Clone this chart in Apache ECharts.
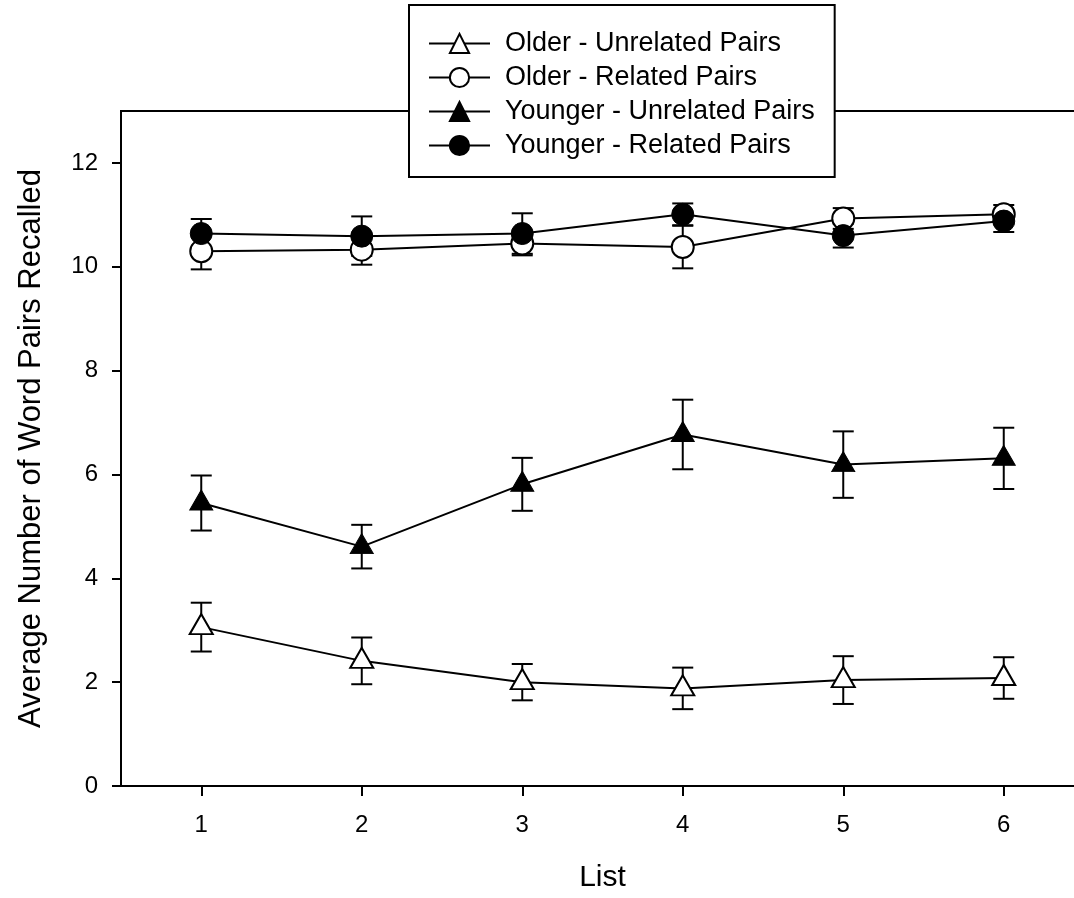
<!DOCTYPE html>
<html>
<head>
<meta charset="utf-8">
<script src="https://cdn.jsdelivr.net/npm/echarts@6/dist/echarts.min.js"></script>
<style>
  html, body { margin: 0; padding: 0; background: #fff; }
  #main { width: 1074px; height: 898px; }
</style>
</head>
<body>
<div id="main"></div>
<script>
// list numbers on the x axis
var lists = ['1', '2', '3', '4', '5', '6'];
var yTicks = [0, 2, 4, 6, 8, 10, 12];

// mean pairs recalled + error bar half-length
var olderUnrelated = [3.06, 2.41, 2.00, 1.88, 2.04, 2.08];
var olderUnrelatedErr = [0.47, 0.45, 0.35, 0.40, 0.46, 0.40];
var olderRelated = [10.30, 10.33, 10.45, 10.38, 10.93, 11.01];
var olderRelatedErr = [0.35, 0.29, 0.23, 0.41, 0.20, 0.18];
var youngerUnrelated = [5.45, 4.61, 5.81, 6.77, 6.19, 6.31];
var youngerUnrelatedErr = [0.53, 0.42, 0.51, 0.67, 0.64, 0.59];
var youngerRelated = [10.64, 10.59, 10.64, 11.01, 10.60, 10.88];
var youngerRelatedErr = [0.28, 0.38, 0.39, 0.21, 0.23, 0.21];

var FONT = '"Liberation Sans", Arial, sans-serif';

function errData(mean, err) {
    return mean.map(function (m, i) {
        return [i, m - err[i], m + err[i]];
    });
}

// vertical bar with caps
function renderErr(params, api) {
    var lo = api.coord([api.value(0), api.value(1)]);
    var hi = api.coord([api.value(0), api.value(2)]);
    var w = 10.5;
    var style = { stroke: '#000', lineWidth: 2 };
    return {
        type: 'group',
        children: [
            { type: 'line', shape: { x1: lo[0], y1: lo[1], x2: hi[0], y2: hi[1] }, style: style },
            { type: 'line', shape: { x1: lo[0] - w, y1: lo[1], x2: lo[0] + w, y2: lo[1] }, style: style },
            { type: 'line', shape: { x1: hi[0] - w, y1: hi[1], x2: hi[0] + w, y2: hi[1] }, style: style }
        ]
    };
}

function errSeries(mean, err) {
    return {
        type: 'custom',
        renderItem: renderErr,
        data: errData(mean, err),
        z: 1,
        silent: true,
        encode: { x: 0, y: [1, 2] }
    };
}

function lineSeries(name, data, symbol, hollow) {
    var isTri = symbol === 'triangle';
    return {
        name: name,
        type: 'line',
        data: data,
        z: 3,
        symbol: symbol,
        symbolSize: isTri ? [23, 20] : 22,
        symbolOffset: isTri ? [0, -3] : [0, 0],
        showAllSymbol: true,
        lineStyle: { color: '#000', width: 2 },
        itemStyle: hollow
            ? { color: '#fff', borderColor: '#000', borderWidth: 2 }
            : { color: '#000', borderColor: '#000', borderWidth: 1 },
        emphasis: { disabled: true }
    };
}

var chart = echarts.init(document.getElementById('main'));

var option = {
    animation: false,
    backgroundColor: '#fff',
    textStyle: { fontFamily: FONT },
    grid: {
        left: 121,
        top: 111,
        right: -10,
        bottom: 112,
        containLabel: false,
        outerBoundsMode: 'none',
        show: true,
        borderColor: '#000',
        borderWidth: 2
    },
    legend: {
        orient: 'vertical',
        left: 409,
        top: 5,
        padding: [25, 20, 18, 19],
        backgroundColor: '#fff',
        borderColor: '#000',
        borderWidth: 2,
        borderRadius: 0,
        itemWidth: 61,
        itemHeight: 24,
        itemGap: 7,
        z: 10,
        selectedMode: false,
        textStyle: {
            fontFamily: FONT,
            fontSize: 27,
            lineHeight: 24,
            color: '#000',
            padding: [0, 0, 0, 10]
        },
        data: [
            'Older - Unrelated Pairs',
            'Older - Related Pairs',
            'Younger - Unrelated Pairs',
            'Younger - Related Pairs'
        ]
    },
    xAxis: {
        type: 'category',
        data: lists,
        boundaryGap: true,
        name: 'List',
        nameLocation: 'middle',
        nameGap: 77,
        nameTextStyle: { fontFamily: FONT, fontSize: 30, color: '#000' },
        axisLine: { show: true, lineStyle: { color: '#000', width: 2 } },
        axisTick: { show: true, alignWithLabel: true, length: 10, lineStyle: { color: '#000', width: 2 } },
        axisLabel: { fontFamily: FONT, fontSize: 24, color: '#000', margin: 27 },
        splitLine: { show: false }
    },
    yAxis: {
        type: 'value',
        min: 0,
        max: 13,
        interval: 2,
        name: 'Average Number of Word Pairs Recalled',
        nameLocation: 'middle',
        nameGap: 74,
        nameTextStyle: { fontFamily: FONT, fontSize: 31, color: '#000' },
        axisLine: { show: true, lineStyle: { color: '#000', width: 2 } },
        axisTick: { show: true, length: 9, customValues: yTicks, lineStyle: { color: '#000', width: 2 } },
        axisLabel: { fontFamily: FONT, fontSize: 24, color: '#000', margin: 23, customValues: yTicks },
        splitLine: { show: false }
    },
    series: [
        errSeries(olderUnrelated, olderUnrelatedErr),
        errSeries(olderRelated, olderRelatedErr),
        errSeries(youngerUnrelated, youngerUnrelatedErr),
        errSeries(youngerRelated, youngerRelatedErr),
        lineSeries('Older - Unrelated Pairs', olderUnrelated, 'triangle', true),
        lineSeries('Older - Related Pairs', olderRelated, 'circle', true),
        lineSeries('Younger - Unrelated Pairs', youngerUnrelated, 'triangle', false),
        lineSeries('Younger - Related Pairs', youngerRelated, 'circle', false)
    ]
};

chart.setOption(option);
</script>
</body>
</html>
